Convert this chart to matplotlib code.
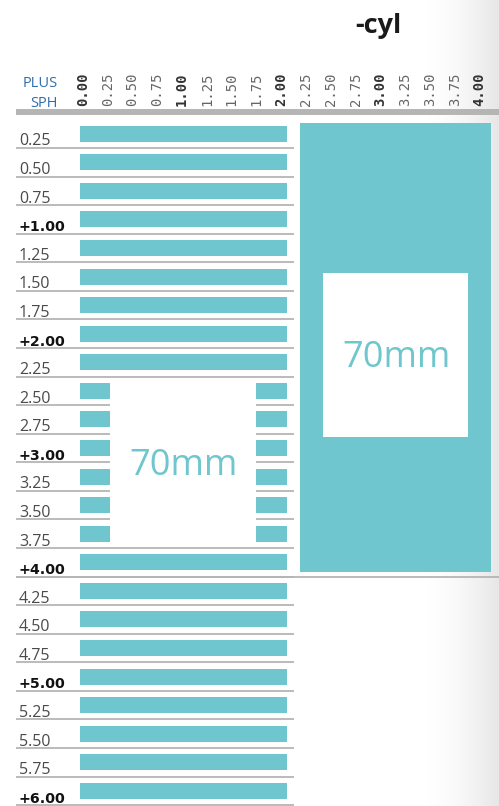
import numpy as np
import matplotlib
matplotlib.use('Agg')
import matplotlib.pyplot as plt
from matplotlib.colors import LinearSegmentedColormap
from matplotlib.patches import Rectangle

# 데이터
sph_rows = [0.25, 0.50, 0.75, 1.00, 1.25, 1.50, 1.75, 2.00,
            2.25, 2.50, 2.75, 3.00, 3.25, 3.50, 3.75, 4.00,
            4.25, 4.50, 4.75, 5.00, 5.25, 5.50, 5.75, 6.00]
cyl_ticks = [0.00, 0.25, 0.50, 0.75, 1.00, 1.25, 1.50, 1.75, 2.00,
             2.25, 2.50, 2.75, 3.00, 3.25, 3.50, 3.75, 4.00]
split_rows = [2.50, 2.75, 3.00, 3.25, 3.50, 3.75]
block_cyl = [2.25, 4.00]
block_sph = [0.25, 4.00]
diameter_label = '70mm'

teal = '#6fc6ce'
grid_grey = '#b5b5b3'

fig = plt.figure(figsize=(4.99, 8.06), dpi=100)
ax = fig.add_axes([0, 0, 1, 1])
ax.axis('off')

# 오른쪽 배경 그라데이션
cmap = LinearSegmentedColormap.from_list('fade', ['#ffffff', '#e6e6e6'])
grad = np.linspace(0, 1, 200) ** 1.6
ax.imshow(grad[np.newaxis, :], cmap=cmap, aspect='auto',
          extent=(3.45, 4.20, 6.01, -1.05), zorder=0)

# 행 막대
half = 0.07
for s in sph_rows:
    yc = s - 0.125
    if s in split_rows:
        ax.barh(yc, 0.272 + 0.03, left=-0.03, height=2 * half, color=teal, zorder=2)
        ax.barh(yc, 2.056 - 1.745, left=1.745, height=2 * half, color=teal, zorder=2)
    else:
        ax.barh(yc, 2.056 + 0.03, left=-0.03, height=2 * half, color=teal, zorder=2)

# 행 구분선
ax.hlines(sph_rows, -0.676, 2.13, color=grid_grey, lw=1.3, zorder=1)
ax.hlines(4.00, -0.676, 4.3, color=grid_grey, lw=1.3, zorder=1)
ax.hlines(-0.065, -0.676, 4.3, color=grid_grey, lw=4.3, zorder=1)

# 왼쪽 70mm 영역
gap_top = split_rows[0] - 0.23
gap_bot = split_rows[-1] - 0.02
ax.add_patch(Rectangle((0.272, gap_top), 1.745 - 0.272, gap_bot - gap_top,
                       facecolor='white', edgecolor='none', zorder=3))
ax.text(1.014, 3.111, diameter_label, ha='center', va='baseline',
        fontsize=26, color=teal, family='Open Sans', zorder=4)

# 오른쪽 블록
b_left = block_cyl[0] - 0.06
b_right = block_cyl[1] + 0.117
b_top = block_sph[0] - 0.22
b_bot = block_sph[1] - 0.04
ax.barh((b_top + b_bot) / 2, b_right - b_left, left=b_left, height=b_bot - b_top,
        color=teal, zorder=2)
ax.add_patch(Rectangle((2.42, 1.344), 3.89 - 2.42, 2.778 - 1.344,
                       facecolor='white', edgecolor='none', zorder=3))
ax.text(3.163, 2.166, diameter_label, ha='center', va='baseline',
        fontsize=26, color=teal, family='Open Sans', zorder=4)

# 행 라벨
for s in sph_rows:
    if s == int(s):
        ax.text(-0.646, s - 0.022, '+%.2f' % s, ha='left', va='baseline',
                fontsize=10.2, fontweight='bold', color='#111111', family='DejaVu Sans')
    else:
        ax.text(-0.646, s - 0.022, '%.2f' % s, ha='left', va='baseline',
                fontsize=11.5, color='#4a4a4a', family='Open Sans')

# 열 라벨
for c in cyl_ticks:
    bold = c == int(c)
    ax.text(c, -0.266, '%.2f' % c, rotation=90, ha='center', va='center',
            fontsize=10, family='DejaVu Sans Mono',
            fontweight='bold' if bold else 'normal',
            color='#333333' if bold else '#666666')

ax.text(-0.252, -0.281, 'PLUS', ha='right', va='baseline', fontsize=10.5,
        color='#2f6fae', family='Open Sans')
ax.text(-0.252, -0.109, 'SPH', ha='right', va='baseline', fontsize=10.5,
        color='#2f6fae', family='Open Sans')
ax.text(2.977, -0.756, '-cyl', ha='center', va='baseline', fontsize=19.5,
        fontweight='bold', color='#1a1a1a', family='Open Sans')

ax.set_xlim(-83 / 99.1, (499 - 83) / 99.1)
ax.set_ylim(0.25 + 658 / 114.3, 0.25 - 148 / 114.3)

fig.savefig('out.png', dpi=100)
